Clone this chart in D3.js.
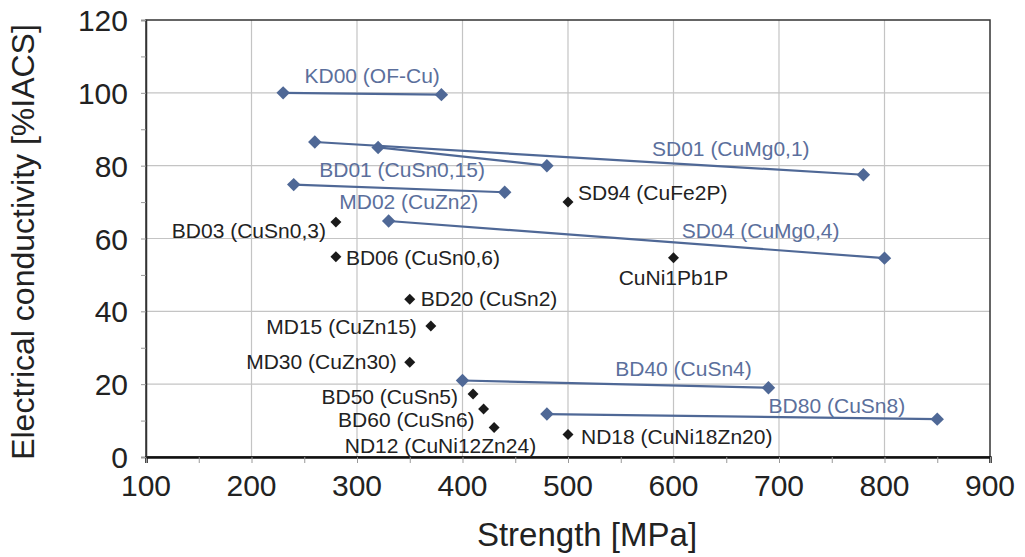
<!DOCTYPE html>
<html>
<head>
<meta charset="utf-8">
<script src="https://cdn.jsdelivr.net/npm/d3@7"></script>
<style>
  body { margin: 0; background: #fff; }
  svg { display: block; font-family: "Liberation Sans", Arial, sans-serif; }
</style>
</head>
<body>
<svg id="chart" width="1025" height="557"></svg>
<script>
// alloys drawn as a blue range (low strength -> high strength)
const rangeNames = ["KD00 (OF-Cu)", "SD01 (CuMg0,1)", "BD01 (CuSn0,15)", "MD02 (CuZn2)",
  "SD04 (CuMg0,4)", "BD40 (CuSn4)", "BD80 (CuSn8)"];
const rangeStrengthLow = [230, 260, 320, 240, 330, 400, 480];
const rangeStrengthHigh = [380, 780, 480, 440, 800, 690, 850];
const rangeCondLow = [100, 86.5, 85, 74.8, 64.8, 21, 11.8];
const rangeCondHigh = [99.5, 77.5, 80, 72.7, 54.6, 19, 10.4];

// alloys drawn as a single black point
const pointNames = ["BD03 (CuSn0,3)", "BD06 (CuSn0,6)", "BD20 (CuSn2)", "MD15 (CuZn15)",
  "MD30 (CuZn30)", "BD50 (CuSn5)", "BD60 (CuSn6)", "ND12 (CuNi12Zn24)",
  "ND18 (CuNi18Zn20)", "SD94 (CuFe2P)", "CuNi1Pb1P"];
const pointStrength = [280, 280, 350, 370, 350, 410, 420, 430, 500, 500, 600];
const pointCond = [64.5, 55, 43.3, 36, 26, 17.3, 13.2, 8.1, 6.2, 70, 54.7];

const xTicks = [100, 200, 300, 400, 500, 600, 700, 800, 900];
const yTicks = [0, 20, 40, 60, 80, 100, 120];

// label placement (pixel offset from the point, text anchor)
const rangeLabelPos = {
  "KD00 (OF-Cu)": [89, -10, "middle"],
  "SD01 (CuMg0,1)": [416, 14, "middle"],
  "BD01 (CuSn0,15)": [24, 30, "middle"],
  "MD02 (CuZn2)": [115, 24, "middle"],
  "SD04 (CuMg0,4)": [372, 17, "middle"],
  "BD40 (CuSn4)": [221, -5, "middle"],
  "BD80 (CuSn8)": [290, -1, "middle"]
};
const pointLabelPos = {
  "BD03 (CuSn0,3)": [-10, 16, "end"],
  "BD06 (CuSn0,6)": [10, 8, "start"],
  "BD20 (CuSn2)": [11, 7, "start"],
  "MD15 (CuZn15)": [-14, 8, "end"],
  "MD30 (CuZn30)": [-13, 7, "end"],
  "BD50 (CuSn5)": [-15, 10, "end"],
  "BD60 (CuSn6)": [-9, 18, "end"],
  "ND12 (CuNi12Zn24)": [42, 25, "end"],
  "ND18 (CuNi18Zn20)": [13, 10, "start"],
  "SD94 (CuFe2P)": [10, -2, "start"],
  "CuNi1Pb1P": [0, 27, "middle"]
};

const svg = d3.select("#chart");
const margin = { top: 20, right: 35, bottom: 100, left: 146 };
const width = 1025 - margin.left - margin.right,
  height = 557 - margin.top - margin.bottom;

const x = d3.scaleLinear().domain([100, 900]).range([margin.left, margin.left + width]);
const y = d3.scaleLinear().domain([0, 120]).range([margin.top + height, margin.top]);

const blue = "#4f6896";
const blueText = "#5b6f9c";

// grid
svg.append("g")
  .selectAll("line")
  .data(xTicks.slice(1, -1))
  .join("line")
  .attr("x1", d => x(d)).attr("x2", d => x(d))
  .attr("y1", y(120)).attr("y2", y(0))
  .attr("stroke", "#c4c4c4").attr("stroke-width", 1.2);
svg.append("g")
  .selectAll("line")
  .data(yTicks.slice(1, -1))
  .join("line")
  .attr("x1", x(100)).attr("x2", x(900))
  .attr("y1", d => y(d)).attr("y2", d => y(d))
  .attr("stroke", "#c4c4c4").attr("stroke-width", 1.2);

// frame
svg.append("rect")
  .attr("x", x(100)).attr("y", y(120))
  .attr("width", x(900) - x(100)).attr("height", y(0) - y(120))
  .attr("fill", "none").attr("stroke", "#333").attr("stroke-width", 1.5);

// x axis
const xAxis = svg.append("g")
  .attr("transform", "translate(0," + y(0) + ")")
  .call(d3.axisBottom(x).tickValues(d3.range(100, 901, 50)).tickSize(6).tickFormat(""));
xAxis.select(".domain").attr("stroke", "#111").attr("stroke-width", 2.5);
xAxis.selectAll(".tick line").attr("stroke", "#999");
svg.append("g")
  .selectAll("text")
  .data(xTicks)
  .join("text")
  .attr("x", d => x(d))
  .attr("y", y(0) + 39)
  .attr("text-anchor", "middle")
  .attr("font-size", 30)
  .attr("fill", "#222")
  .text(d => d);

// y axis
const yAxis = svg.append("g")
  .attr("transform", "translate(" + x(100) + ",0)")
  .call(d3.axisLeft(y).tickValues(d3.range(0, 121, 10)).tickSize(5).tickFormat(""));
yAxis.select(".domain").attr("stroke", "#333").attr("stroke-width", 1.5);
yAxis.selectAll(".tick line").attr("stroke", "#999");
svg.append("g")
  .selectAll("text")
  .data(yTicks)
  .join("text")
  .attr("x", x(100) - 18)
  .attr("y", d => y(d) + 11)
  .attr("text-anchor", "end")
  .attr("font-size", 30)
  .attr("fill", "#222")
  .text(d => d);

// axis titles
svg.append("text")
  .attr("x", 587)
  .attr("y", 546)
  .attr("text-anchor", "middle")
  .attr("font-size", 33)
  .attr("fill", "#222")
  .text("Strength [MPa]");
svg.append("text")
  .attr("transform", "translate(34,242) rotate(-90)")
  .attr("text-anchor", "middle")
  .attr("font-size", 32)
  .attr("fill", "#222")
  .text("Electrical conductivity [%IACS]");

// range lines
const ranges = rangeNames.map((n, i) => ({
  name: n,
  pts: [[rangeStrengthLow[i], rangeCondLow[i]], [rangeStrengthHigh[i], rangeCondHigh[i]]]
}));
const line = d3.line().x(d => x(d[0])).y(d => y(d[1]));
const diamond = d3.symbol().type(d3.symbolSquare);

svg.append("g")
  .selectAll("path")
  .data(ranges)
  .join("path")
  .attr("d", d => line(d.pts))
  .attr("fill", "none")
  .attr("stroke", blue)
  .attr("stroke-width", 2.2);

svg.append("g")
  .selectAll("path")
  .data(ranges.flatMap(r => r.pts))
  .join("path")
  .attr("d", diamond.size(90)())
  .attr("transform", d => "translate(" + x(d[0]) + "," + y(d[1]) + ") rotate(45)")
  .attr("fill", blue);

svg.append("g")
  .selectAll("text")
  .data(ranges)
  .join("text")
  .attr("x", d => x(d.pts[0][0]) + rangeLabelPos[d.name][0])
  .attr("y", d => y(d.pts[0][1]) + rangeLabelPos[d.name][1])
  .attr("text-anchor", d => rangeLabelPos[d.name][2])
  .attr("font-size", 21)
  .attr("fill", blueText)
  .text(d => d.name);

// single points
const points = pointNames.map((n, i) => ({ name: n, s: pointStrength[i], c: pointCond[i] }));
svg.append("g")
  .selectAll("path")
  .data(points)
  .join("path")
  .attr("d", diamond.size(60)())
  .attr("transform", d => "translate(" + x(d.s) + "," + y(d.c) + ") rotate(45)")
  .attr("fill", "#1a1a1a");

svg.append("g")
  .selectAll("text")
  .data(points)
  .join("text")
  .attr("x", d => x(d.s) + pointLabelPos[d.name][0])
  .attr("y", d => y(d.c) + pointLabelPos[d.name][1])
  .attr("text-anchor", d => pointLabelPos[d.name][2])
  .attr("font-size", 21)
  .attr("fill", "#222")
  .text(d => d.name);
</script>
</body>
</html>
